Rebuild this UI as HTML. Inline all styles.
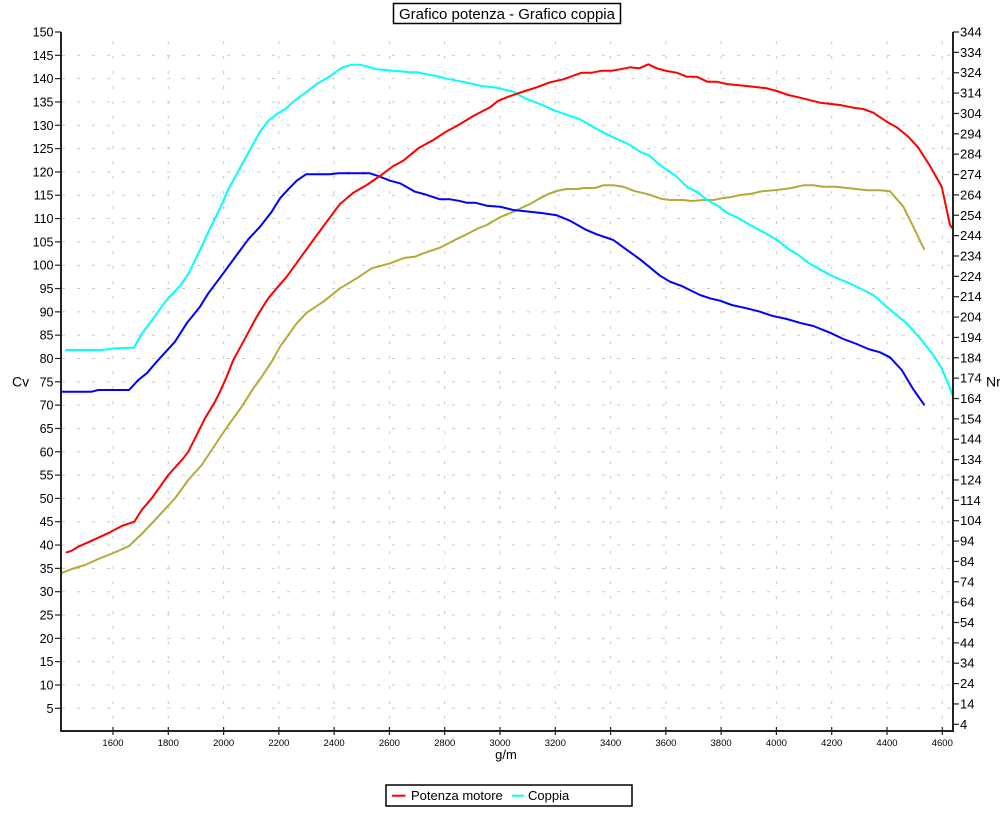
<!DOCTYPE html>
<html>
<head>
<meta charset="utf-8">
<style>
  html,body{margin:0;padding:0;background:#fff;}
  svg{display:block;}
  text{font-family:"Liberation Sans", Arial, sans-serif;fill:#000;}
</style>
</head>
<body>
<svg width="1000" height="822" viewBox="0 0 1000 822" xmlns="http://www.w3.org/2000/svg">
  <rect x="0" y="0" width="1000" height="822" fill="#fff"/>

  <!-- Title -->
  <rect x="393.5" y="3.5" width="227" height="20" fill="#fff" stroke="#000" stroke-width="1.5"/>
  <text x="507" y="19" font-size="15" text-anchor="middle">Grafico potenza - Grafico coppia</text>

  <!-- Grid horizontal -->
  <g stroke="#c8c8c8" stroke-width="1" stroke-dasharray="3 12" stroke-dashoffset="-1">
    <line x1="61" y1="55.32" x2="953" y2="55.32"/>
    <line x1="61" y1="78.64" x2="953" y2="78.64"/>
    <line x1="61" y1="101.96" x2="953" y2="101.96"/>
    <line x1="61" y1="125.28" x2="953" y2="125.28"/>
    <line x1="61" y1="148.60" x2="953" y2="148.60"/>
    <line x1="61" y1="171.92" x2="953" y2="171.92"/>
    <line x1="61" y1="195.24" x2="953" y2="195.24"/>
    <line x1="61" y1="218.56" x2="953" y2="218.56"/>
    <line x1="61" y1="241.88" x2="953" y2="241.88"/>
    <line x1="61" y1="265.20" x2="953" y2="265.20"/>
    <line x1="61" y1="288.53" x2="953" y2="288.53"/>
    <line x1="61" y1="311.85" x2="953" y2="311.85"/>
    <line x1="61" y1="335.17" x2="953" y2="335.17"/>
    <line x1="61" y1="358.49" x2="953" y2="358.49"/>
    <line x1="61" y1="381.81" x2="953" y2="381.81"/>
    <line x1="61" y1="405.13" x2="953" y2="405.13"/>
    <line x1="61" y1="428.45" x2="953" y2="428.45"/>
    <line x1="61" y1="451.77" x2="953" y2="451.77"/>
    <line x1="61" y1="475.09" x2="953" y2="475.09"/>
    <line x1="61" y1="498.41" x2="953" y2="498.41"/>
    <line x1="61" y1="521.73" x2="953" y2="521.73"/>
    <line x1="61" y1="545.05" x2="953" y2="545.05"/>
    <line x1="61" y1="568.37" x2="953" y2="568.37"/>
    <line x1="61" y1="591.69" x2="953" y2="591.69"/>
    <line x1="61" y1="615.01" x2="953" y2="615.01"/>
    <line x1="61" y1="638.33" x2="953" y2="638.33"/>
    <line x1="61" y1="661.65" x2="953" y2="661.65"/>
    <line x1="61" y1="684.97" x2="953" y2="684.97"/>
    <line x1="61" y1="708.29" x2="953" y2="708.29"/>
  </g>
  <!-- Grid vertical -->
  <g stroke="#c8c8c8" stroke-width="1" stroke-dasharray="3 12" stroke-dashoffset="-9">
    <line x1="113" y1="32" x2="113" y2="731"/>
    <line x1="168.3" y1="32" x2="168.3" y2="731"/>
    <line x1="223.6" y1="32" x2="223.6" y2="731"/>
    <line x1="278.9" y1="32" x2="278.9" y2="731"/>
    <line x1="334.1" y1="32" x2="334.1" y2="731"/>
    <line x1="389.4" y1="32" x2="389.4" y2="731"/>
    <line x1="444.7" y1="32" x2="444.7" y2="731"/>
    <line x1="500" y1="32" x2="500" y2="731"/>
    <line x1="555.3" y1="32" x2="555.3" y2="731"/>
    <line x1="610.6" y1="32" x2="610.6" y2="731"/>
    <line x1="665.9" y1="32" x2="665.9" y2="731"/>
    <line x1="721.1" y1="32" x2="721.1" y2="731"/>
    <line x1="776.4" y1="32" x2="776.4" y2="731"/>
    <line x1="831.7" y1="32" x2="831.7" y2="731"/>
    <line x1="887" y1="32" x2="887" y2="731"/>
    <line x1="942.3" y1="32" x2="942.3" y2="731"/>
  </g>

  <!-- Series -->
  <g fill="none" stroke-width="2" stroke-linejoin="round" stroke-linecap="round">
    <polyline stroke="#b5a93a" points="61,573.3 71.7,569 85,565 98.3,559 115,552.3 129,546 141.7,534 155,520 175,498.3 188.3,480 201.7,465 211.7,450 225,430 241.7,406.7 252.7,389.3 261.7,376.7 271.7,361.7 280,346.7 296.7,323.3 306.7,312.7 323.3,301.7 340,288.3 356.7,278.3 371.7,268.3 390,263.3 405,257.7 415,256.7 423.3,253.3 440,247.7 453.3,240.7 466.7,234.3 476.7,229 486.7,225 500,217.3 513.3,211.7 530,204 540,198.3 548.3,194 556.7,191 566.7,189 578.3,189 583.3,188 595,188 603.3,185.3 613.3,185.3 623.3,186.7 633.3,190.7 648.3,194.3 661,198.7 670,200 683.3,200 691.7,201 703.3,200 713.3,200 721.7,198.3 730,197.3 740,195 750,194 761.7,191.3 776.7,190 791.7,188 803.3,185.3 813.3,185.3 823.3,186.7 835,186.7 850,188.3 866.7,190.3 880,190.3 890,191.3 903.3,206.7 913.3,226.7 924,249"/>
    <polyline stroke="#0000ff" points="61,391.7 91.7,391.7 98.3,390 129,390 138.3,380 146.7,373.3 156.7,361.7 175,341.7 186.7,323.3 200,306.7 208.3,293.3 223.3,273.3 236.7,255 248.3,239.3 260,226.7 271.7,211.7 280,198.3 288.3,189.3 296.7,180.7 306,174.3 330,174.3 338.3,173.3 370,173.3 380,176.7 390,180.7 400,183.3 415,191.7 425,194.3 440,199.3 450,199.3 458.3,200.7 466.7,202.7 475,202.7 486.7,205.7 500,206.7 513.3,210 530,211.7 543.3,213.3 556.7,215.3 570,220.7 585,229.3 596.7,234.3 613.3,240 623.3,247.3 640,259.3 660,275.7 670,281.7 681.7,286 700,295 710,298.3 720,300.7 731.7,305 746.7,308.3 760,311.7 771.7,315.7 786.7,319 801.7,323.3 813.3,326 830,332.7 843.3,339 856.7,344 868.3,349 880,352.3 890,357.3 901.7,370 913.3,389.3 924,404.5"/>
    <polyline stroke="#00ffff" points="66,350 103,350 113,348.5 134,347.5 141.7,334 153.3,318.3 166,300.7 180.7,285 188.3,274 200,250 210,228.3 220,208.3 228.3,189.3 236.7,174 248.3,152.7 260,131.7 268.3,120.7 276.7,114 285,109.3 293.3,101.7 306.7,91.7 316.7,84 326.7,78.3 342.7,67.3 351.7,64.7 360,64.7 368.3,66.7 376.7,69.3 393.3,70.7 410,72.3 418.3,72.3 426.7,74.3 436.7,76 446.7,78.7 465,82.3 480,85.7 496.7,87.7 510,91 513.3,91.7 525,98.3 540,104 555,110.7 580,119.3 596.7,129 613.3,137.3 630,145 640,151.7 648.3,155 660,165 676.7,176.7 686.7,186.7 696.7,191.7 708.3,200.7 718.3,206 726.7,212.7 736.7,217.3 753.3,226.7 766.7,234 778.3,240.7 788.3,249 798.3,255 808.3,262.7 830,275 853.3,285 873.3,295 888.3,308.3 906.7,323.3 920,338.3 933.3,355 941.7,368.3 950,388.3 953,397"/>
    <polyline stroke="#ff0000" points="66.7,552.3 71.7,550.7 78.3,546.7 91.7,540.7 110,532.3 121.7,526 134.3,521.7 141.7,510 151.7,498.3 168.3,475 183.3,458.3 188.3,451.7 195,438.3 205,418.3 215,401.7 220,391.7 226.7,376.7 233.3,360 243.3,341.7 256.7,316.7 268.3,298.3 276.7,288.3 286.7,276.7 300,258.3 313.3,240 326.7,221.7 340,204 353.3,192.7 366.7,185 380,176 393.3,166 403.3,160.7 418.3,148.3 433.3,140 445,132.3 456.7,126 473.3,116 490,107.3 498.3,100.7 508.3,96.7 525,91 536.7,87.3 550,82.3 563.3,79.3 581.7,72.7 591.7,72.7 601.7,70.7 611.7,70.7 620,69.3 630,67.3 639.3,68.3 648.3,64.3 656.7,68.3 666.7,71 676.7,72.7 686.7,76.7 696.7,76.7 707.3,81.7 716.7,81.7 726.7,84 746.7,86 766.7,88.3 776.7,91 788.3,95 800,97.7 820,102.7 840,105 853.3,107.7 863.3,109 873.3,112.7 886.7,121.7 896.7,127.3 908.3,136.7 918.3,147.7 930,166 941.7,186.7 950,225 953,229"/>
  </g>

  <!-- Axes -->
  <g stroke="#222" stroke-width="2">
    <line x1="61" y1="32" x2="61" y2="732"/>
    <line x1="953" y1="32" x2="953" y2="732"/>
    <line x1="60" y1="731" x2="954" y2="731"/>
  </g>

  <!-- Left ticks -->
  <g stroke="#222" stroke-width="1.2">
    <line x1="55" y1="32" x2="61" y2="32"/>
    <line x1="55" y1="55.32" x2="61" y2="55.32"/>
    <line x1="55" y1="78.64" x2="61" y2="78.64"/>
    <line x1="55" y1="101.96" x2="61" y2="101.96"/>
    <line x1="55" y1="125.28" x2="61" y2="125.28"/>
    <line x1="55" y1="148.60" x2="61" y2="148.60"/>
    <line x1="55" y1="171.92" x2="61" y2="171.92"/>
    <line x1="55" y1="195.24" x2="61" y2="195.24"/>
    <line x1="55" y1="218.56" x2="61" y2="218.56"/>
    <line x1="55" y1="241.88" x2="61" y2="241.88"/>
    <line x1="55" y1="265.20" x2="61" y2="265.20"/>
    <line x1="55" y1="288.53" x2="61" y2="288.53"/>
    <line x1="55" y1="311.85" x2="61" y2="311.85"/>
    <line x1="55" y1="335.17" x2="61" y2="335.17"/>
    <line x1="55" y1="358.49" x2="61" y2="358.49"/>
    <line x1="55" y1="381.81" x2="61" y2="381.81"/>
    <line x1="55" y1="405.13" x2="61" y2="405.13"/>
    <line x1="55" y1="428.45" x2="61" y2="428.45"/>
    <line x1="55" y1="451.77" x2="61" y2="451.77"/>
    <line x1="55" y1="475.09" x2="61" y2="475.09"/>
    <line x1="55" y1="498.41" x2="61" y2="498.41"/>
    <line x1="55" y1="521.73" x2="61" y2="521.73"/>
    <line x1="55" y1="545.05" x2="61" y2="545.05"/>
    <line x1="55" y1="568.37" x2="61" y2="568.37"/>
    <line x1="55" y1="591.69" x2="61" y2="591.69"/>
    <line x1="55" y1="615.01" x2="61" y2="615.01"/>
    <line x1="55" y1="638.33" x2="61" y2="638.33"/>
    <line x1="55" y1="661.65" x2="61" y2="661.65"/>
    <line x1="55" y1="684.97" x2="61" y2="684.97"/>
    <line x1="55" y1="708.29" x2="61" y2="708.29"/>
  </g>
  <g font-size="12.5" text-anchor="end">
    <text x="53.5" y="36.5">150</text>
    <text x="53.5" y="59.8">145</text>
    <text x="53.5" y="83.1">140</text>
    <text x="53.5" y="106.5">135</text>
    <text x="53.5" y="129.8">130</text>
    <text x="53.5" y="153.1">125</text>
    <text x="53.5" y="176.4">120</text>
    <text x="53.5" y="199.7">115</text>
    <text x="53.5" y="223.1">110</text>
    <text x="53.5" y="246.4">105</text>
    <text x="53.5" y="269.7">100</text>
    <text x="53.5" y="293.0">95</text>
    <text x="53.5" y="316.3">90</text>
    <text x="53.5" y="339.7">85</text>
    <text x="53.5" y="363.0">80</text>
    <text x="53.5" y="386.3">75</text>
    <text x="53.5" y="409.6">70</text>
    <text x="53.5" y="432.9">65</text>
    <text x="53.5" y="456.3">60</text>
    <text x="53.5" y="479.6">55</text>
    <text x="53.5" y="502.9">50</text>
    <text x="53.5" y="526.2">45</text>
    <text x="53.5" y="549.5">40</text>
    <text x="53.5" y="572.9">35</text>
    <text x="53.5" y="596.2">30</text>
    <text x="53.5" y="619.5">25</text>
    <text x="53.5" y="642.8">20</text>
    <text x="53.5" y="666.1">15</text>
    <text x="53.5" y="689.5">10</text>
    <text x="53.5" y="712.8">5</text>
  </g>

  <!-- Right ticks -->
  <g stroke="#222" stroke-width="1.2">
    <line x1="953" y1="32" x2="959" y2="32"/>
    <line x1="953" y1="52.36" x2="959" y2="52.36"/>
    <line x1="953" y1="72.72" x2="959" y2="72.72"/>
    <line x1="953" y1="93.09" x2="959" y2="93.09"/>
    <line x1="953" y1="113.45" x2="959" y2="113.45"/>
    <line x1="953" y1="133.81" x2="959" y2="133.81"/>
    <line x1="953" y1="154.17" x2="959" y2="154.17"/>
    <line x1="953" y1="174.53" x2="959" y2="174.53"/>
    <line x1="953" y1="194.90" x2="959" y2="194.90"/>
    <line x1="953" y1="215.26" x2="959" y2="215.26"/>
    <line x1="953" y1="235.62" x2="959" y2="235.62"/>
    <line x1="953" y1="255.98" x2="959" y2="255.98"/>
    <line x1="953" y1="276.34" x2="959" y2="276.34"/>
    <line x1="953" y1="296.71" x2="959" y2="296.71"/>
    <line x1="953" y1="317.07" x2="959" y2="317.07"/>
    <line x1="953" y1="337.43" x2="959" y2="337.43"/>
    <line x1="953" y1="357.79" x2="959" y2="357.79"/>
    <line x1="953" y1="378.15" x2="959" y2="378.15"/>
    <line x1="953" y1="398.52" x2="959" y2="398.52"/>
    <line x1="953" y1="418.88" x2="959" y2="418.88"/>
    <line x1="953" y1="439.24" x2="959" y2="439.24"/>
    <line x1="953" y1="459.60" x2="959" y2="459.60"/>
    <line x1="953" y1="479.96" x2="959" y2="479.96"/>
    <line x1="953" y1="500.33" x2="959" y2="500.33"/>
    <line x1="953" y1="520.69" x2="959" y2="520.69"/>
    <line x1="953" y1="541.05" x2="959" y2="541.05"/>
    <line x1="953" y1="561.41" x2="959" y2="561.41"/>
    <line x1="953" y1="581.77" x2="959" y2="581.77"/>
    <line x1="953" y1="602.14" x2="959" y2="602.14"/>
    <line x1="953" y1="622.50" x2="959" y2="622.50"/>
    <line x1="953" y1="642.86" x2="959" y2="642.86"/>
    <line x1="953" y1="663.22" x2="959" y2="663.22"/>
    <line x1="953" y1="683.58" x2="959" y2="683.58"/>
    <line x1="953" y1="703.95" x2="959" y2="703.95"/>
    <line x1="953" y1="724.31" x2="959" y2="724.31"/>
  </g>
  <g font-size="13">
    <text x="960" y="36.5">344</text>
    <text x="960" y="56.9">334</text>
    <text x="960" y="77.2">324</text>
    <text x="960" y="97.6">314</text>
    <text x="960" y="118.0">304</text>
    <text x="960" y="138.3">294</text>
    <text x="960" y="158.7">284</text>
    <text x="960" y="179.0">274</text>
    <text x="960" y="199.4">264</text>
    <text x="960" y="219.8">254</text>
    <text x="960" y="240.1">244</text>
    <text x="960" y="260.5">234</text>
    <text x="960" y="280.8">224</text>
    <text x="960" y="301.2">214</text>
    <text x="960" y="321.6">204</text>
    <text x="960" y="341.9">194</text>
    <text x="960" y="362.3">184</text>
    <text x="960" y="382.7">174</text>
    <text x="960" y="403.0">164</text>
    <text x="960" y="423.4">154</text>
    <text x="960" y="443.7">144</text>
    <text x="960" y="464.1">134</text>
    <text x="960" y="484.5">124</text>
    <text x="960" y="504.8">114</text>
    <text x="960" y="525.2">104</text>
    <text x="960" y="545.5">94</text>
    <text x="960" y="565.9">84</text>
    <text x="960" y="586.3">74</text>
    <text x="960" y="606.6">64</text>
    <text x="960" y="627.0">54</text>
    <text x="960" y="647.4">44</text>
    <text x="960" y="667.7">34</text>
    <text x="960" y="688.1">24</text>
    <text x="960" y="708.4">14</text>
    <text x="960" y="728.8">4</text>
  </g>

  <!-- X ticks -->
  <g stroke="#222" stroke-width="1.2">
    <line x1="113" y1="727" x2="113" y2="735"/>
    <line x1="168.3" y1="727" x2="168.3" y2="735"/>
    <line x1="223.6" y1="727" x2="223.6" y2="735"/>
    <line x1="278.9" y1="727" x2="278.9" y2="735"/>
    <line x1="334.1" y1="727" x2="334.1" y2="735"/>
    <line x1="389.4" y1="727" x2="389.4" y2="735"/>
    <line x1="444.7" y1="727" x2="444.7" y2="735"/>
    <line x1="500" y1="727" x2="500" y2="735"/>
    <line x1="555.3" y1="727" x2="555.3" y2="735"/>
    <line x1="610.6" y1="727" x2="610.6" y2="735"/>
    <line x1="665.9" y1="727" x2="665.9" y2="735"/>
    <line x1="721.1" y1="727" x2="721.1" y2="735"/>
    <line x1="776.4" y1="727" x2="776.4" y2="735"/>
    <line x1="831.7" y1="727" x2="831.7" y2="735"/>
    <line x1="887" y1="727" x2="887" y2="735"/>
    <line x1="942.3" y1="727" x2="942.3" y2="735"/>
  </g>
  <g font-size="9.5" text-anchor="middle">
    <text x="113" y="746">1600</text>
    <text x="168.3" y="746">1800</text>
    <text x="223.6" y="746">2000</text>
    <text x="278.9" y="746">2200</text>
    <text x="334.1" y="746">2400</text>
    <text x="389.4" y="746">2600</text>
    <text x="444.7" y="746">2800</text>
    <text x="500" y="746">3000</text>
    <text x="555.3" y="746">3200</text>
    <text x="610.6" y="746">3400</text>
    <text x="665.9" y="746">3600</text>
    <text x="721.1" y="746">3800</text>
    <text x="776.4" y="746">4000</text>
    <text x="831.7" y="746">4200</text>
    <text x="887" y="746">4400</text>
    <text x="942.3" y="746">4600</text>
  </g>

  <!-- Axis titles -->
  <text x="506" y="759" font-size="13" text-anchor="middle">g/m</text>
  <text x="12" y="386.5" font-size="14">Cv</text>
  <text x="986" y="386.5" font-size="14">Nm</text>

  <!-- Legend -->
  <rect x="386" y="785" width="246" height="21" fill="#fff" stroke="#000" stroke-width="1.5"/>
  <line x1="392" y1="795.7" x2="405.5" y2="795.7" stroke="#ff0000" stroke-width="2"/>
  <text x="411" y="800" font-size="13">Potenza motore</text>
  <line x1="512" y1="795.7" x2="524" y2="795.7" stroke="#00ffff" stroke-width="2"/>
  <text x="528" y="800" font-size="13">Coppia</text>
</svg>
</body>
</html>
